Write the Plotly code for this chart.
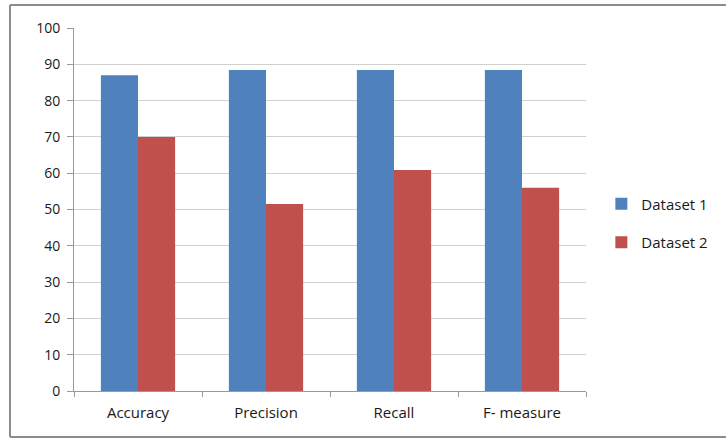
import plotly.graph_objects as go

categories = ["Accuracy", "Precision", "Recall", "F- measure"]
dataset1 = [87.0, 88.4, 88.4, 88.4]
dataset2 = [70.0, 51.5, 60.9, 56.0]
y_ticks = [0, 10, 20, 30, 40, 50, 60, 70, 80, 90, 100]

W, H = 726, 439
L, R, T, B = 74, 140, 28, 48
pw, ph = W - L - R, H - T - B

fig = go.Figure()
fig.add_trace(go.Bar(name="Dataset 1", x=categories, y=dataset1, legendgroup="a",
                     marker=dict(color="#4F81BD", line=dict(width=0))))
fig.add_trace(go.Bar(name="Dataset 2", x=categories, y=dataset2, legendgroup="b",
                     marker=dict(color="#C0504D", line=dict(width=0))))

font = "Open Sans, Arial, sans-serif"
fig.update_layout(
    width=W, height=H,
    margin=dict(l=L, r=R, t=T, b=B, pad=0),
    paper_bgcolor="white", plot_bgcolor="white",
    barmode="group", bargap=0.42, bargroupgap=0,
    font=dict(family=font, size=14, color="#1a1a1a"),
    showlegend=True,
    legend=dict(x=1.03, y=0.463, xanchor="left", yanchor="middle",
                font=dict(size=15, color="#1a1a1a"), tracegroupgap=16,
                itemwidth=30, bgcolor="rgba(0,0,0,0)"),
    xaxis=dict(showline=True, linecolor="#999", linewidth=1,
               ticks="outside", ticklen=5, tickcolor="#999",
               tickson="boundaries", showgrid=False,
               tickfont=dict(size=15, color="#1a1a1a"), ticklabelstandoff=8, fixedrange=True),
    yaxis=dict(range=[0, 100], tickvals=y_ticks, showline=True, linecolor="#999",
               linewidth=1, ticks="outside", ticklen=6, tickcolor="#999",
               showgrid=True, gridcolor="#d0d0d0", gridwidth=1, zeroline=False,
               tickfont=dict(size=14, color="#1a1a1a"), ticklabelstandoff=4, fixedrange=True),
)

# outer frame (left, top, bottom sides; right side lies outside the picture)
fx0, fx1 = (10 - L) / pw, (740 - L) / pw
fy0, fy1 = (H - B - 437) / ph, 1 + (T - 5) / ph
for x0, y0, x1, y1 in [(fx0, fy0, fx0, fy1), (fx0, fy1, fx1, fy1), (fx0, fy0, fx1, fy0)]:
    fig.add_shape(type="line", xref="paper", yref="paper", x0=x0, y0=y0, x1=x1, y1=y1,
                  line=dict(color="#8c8c8c", width=2), layer="below")

fig.write_html("out.html", config={"displayModeBar": False},
               post_script="document.body.style.margin='0';document.body.style.overflow='hidden';")
